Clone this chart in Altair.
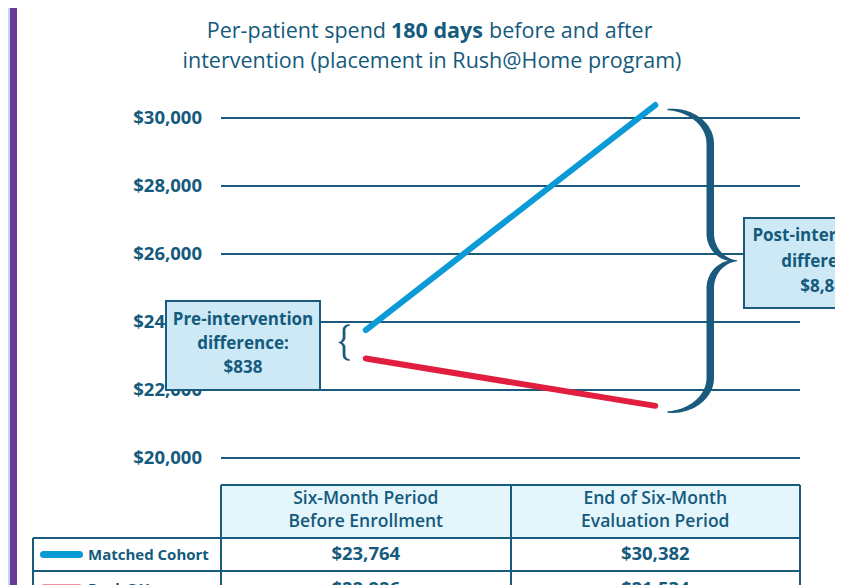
import math
import altair as alt
import pandas as pd

# ---------------- data ----------------
groups = ["Matched Cohort", "Rush@Home"]
period_pos = [0.25, 0.75]
header_line1 = ["Six-Month Period", "End of Six-Month"]
header_line2 = ["Before Enrollment", "Evaluation Period"]
matched = [23764, 30382]
rush_home = [22926, 21534]
y_ticks = [20000, 22000, 24000, 26000, 28000, 30000]

pre_diff = matched[0] - rush_home[0]
post_diff = matched[1] - rush_home[1]

# ---------------- style ----------------
TEXT = "#145a7c"
GRID = "#1a5a7c"
BLUE = "#0a9ad6"
RED = "#e11d40"
BOXFILL = "#cde9f6"
HEADFILL = "#e4f5fc"
PURPLE = "#6a3c98"
LIGHTBLUE = "#b9dbf1"
FONT = "Open Sans"

W, H = 579, 340
PADL, PADT = 213, 110
TOTW, TOTH = 827, 577


def px(x):  # page x -> plot x
    return x - 221


def py(y):  # page y -> plot y
    return y - 118


xs = alt.Scale(domain=[0, 1], nice=False, zero=False)
ys = alt.Scale(domain=[20000, 30000], nice=False, zero=False)
one = pd.DataFrame({"a": [0]})


def text(s, x, y, size=17, weight="bold", align="center", color=TEXT):
    return alt.Chart(one).mark_text(
        text=s, fontSize=size, fontWeight=weight, align=align,
        baseline="middle", font=FONT, color=color
    ).encode(x=alt.value(x), y=alt.value(y))


def rect(x1, x2, y1, y2, fill, stroke=None, sw=0):
    kw = {"fill": fill}
    if stroke:
        kw["stroke"] = stroke
        kw["strokeWidth"] = sw
    return alt.Chart(one).mark_rect(**kw).encode(
        x=alt.value(x1), x2=alt.value(x2), y=alt.value(y1), y2=alt.value(y2))


def hrule(x1, x2, y, color=GRID, w=2, cap="butt"):
    return alt.Chart(one).mark_rule(color=color, strokeWidth=w, strokeCap=cap).encode(
        x=alt.value(x1), x2=alt.value(x2), y=alt.value(y))


def vrule(x, y1, y2, color=GRID, w=2):
    return alt.Chart(one).mark_rule(color=color, strokeWidth=w).encode(
        x=alt.value(x), y=alt.value(y1), y2=alt.value(y2))


def brace(x_end, x_vert, x_tip, y_top, y_bot, r1, r2, w_end, w_mid, n=14):
    y_mid = (y_top + y_bot) / 2
    half = []
    for i in range(n + 1):
        t = i / n * math.pi / 2
        half.append((x_end + (x_vert - x_end) * math.sin(t),
                     y_top - r1 * (1 - math.cos(t)),
                     w_end + (w_mid - w_end) * math.sin(t)))
    for i in range(n + 1):
        t = i / n * math.pi / 2
        half.append((x_vert + (x_tip - x_vert) * (1 - math.cos(t)),
                     y_mid + r2 * (1 - math.sin(t)),
                     w_mid + (w_end * 0.6 - w_mid) * (1 - math.cos(t))))
    other = [(x, 2 * y_mid - y, w) for (x, y, w) in reversed(half[:-1])]
    pts = half + other
    return pd.DataFrame({"x": [p[0] for p in pts], "y": [p[1] for p in pts],
                         "w": [p[2] for p in pts], "i": list(range(len(pts)))})


def trail(df):
    return alt.Chart(df).mark_trail(color=GRID).encode(
        x=alt.X("x:Q", scale=xs, axis=None),
        y=alt.Y("y:Q", scale=ys, axis=None),
        size=alt.Size("w:Q", scale=None, legend=None),
        order="i:Q")


# ---------------- y grid + labels (through the y scale) ----------------
df_ticks = pd.DataFrame({"tick": y_ticks})
grid = alt.Chart(df_ticks).mark_rule(color=GRID, strokeWidth=2).encode(
    y=alt.Y("tick:Q", scale=ys, axis=None), x=alt.value(0), x2=alt.value(W))
tick_labels = alt.Chart(df_ticks).mark_text(
    font=FONT, fontSize=18.5, fontWeight="bold", color=TEXT, align="right", baseline="middle"
).encode(y=alt.Y("tick:Q", scale=ys, axis=None), x=alt.value(-19),
         text=alt.Text("tick:Q", format="$,.0f"))

# ---------------- main lines ----------------
df_lines = pd.DataFrame({
    "pos": period_pos * 2,
    "value": matched + rush_home,
    "group": [groups[0]] * 2 + [groups[1]] * 2,
})

lines = alt.Chart(df_lines).mark_line(strokeWidth=6, strokeCap="round").encode(
    x=alt.X("pos:Q", scale=xs, axis=None),
    y=alt.Y("value:Q", scale=ys, axis=None),
    color=alt.Color("group:N", scale=alt.Scale(domain=groups, range=[BLUE, RED]), legend=None),
    detail="group:N",
)

# ---------------- decorations ----------------
left_bars = [
    rect(-PADL, -PADL + 2, -PADT, TOTH - PADT, LIGHTBLUE),
    rect(-PADL + 2, -PADL + 9, -PADT, TOTH - PADT, PURPLE),
]

title = [
    text("Per-patient spend", px(386), py(32), size=21.5, weight="normal", align="right"),
    text("180 days", px(437), py(32), size=21.5, weight="bold", align="center"),
    text("before and after", px(489), py(32), size=21.5, weight="normal", align="left"),
    text("intervention (placement in Rush@Home program)", px(432), py(62), size=21.5, weight="normal"),
]

big_brace = trail(brace(0.772, 0.845, 0.891, 30250, 21350, 1000, 800, 1.5, 7.5))
small_brace = trail(brace(0.222, 0.2125, 0.203, 23912, 22882, 150, 150, 1.2, 2.8))

pre_box = [
    rect(px(166), px(320), py(301), py(390), BOXFILL, GRID, 2),
    text("Pre-intervention", px(243), py(320)),
    text("difference:", px(243), py(344)),
    text(f"${pre_diff:,}", px(243), py(368)),
]

post_box = [
    rect(px(744), px(910), py(218), py(308), BOXFILL, GRID, 2),
    text("Post-intervention", px(827), py(236)),
    text("difference:", px(827), py(262)),
    text(f"${post_diff:,}", px(827), py(287)),
]

# ---------------- table ----------------
table = [
    rect(px(221), px(800), py(485), py(537), HEADFILL),
    hrule(px(221), px(800), py(485)),
    hrule(px(33), px(800), py(538)),
    hrule(px(33), px(800), py(571)),
    vrule(px(33), py(538), TOTH - PADT),
    vrule(px(221), py(485), TOTH - PADT),
    vrule(px(511), py(485), TOTH - PADT),
    vrule(px(800), py(485), TOTH - PADT),
    hrule(px(43.5), px(79.5), py(554.5), color=BLUE, w=7, cap="round"),
    hrule(px(43.5), px(79.5), py(588), color=RED, w=7, cap="round"),
    text(groups[0], px(88), py(555), size=15, align="left"),
    text(groups[1], px(88), py(589), size=15, align="left"),
]

df_head = pd.DataFrame({"pos": period_pos, "l1": header_line1, "l2": header_line2})
for fld, yy in (("l1", 499), ("l2", 522)):
    table.append(alt.Chart(df_head).mark_text(
        fontSize=17.5, fontWeight=600, font=FONT, color=TEXT, baseline="middle"
    ).encode(x=alt.X("pos:Q", scale=xs, axis=None), y=alt.value(py(yy)), text=f"{fld}:N"))

df_vals = pd.DataFrame({
    "pos": period_pos * 2,
    "value": matched + rush_home,
    "row": [0, 0, 1, 1],
})
df_vals["label"] = df_vals["value"].map(lambda v: f"${v:,}")
for r, yy in ((0, 554), (1, 589)):
    table.append(alt.Chart(df_vals[df_vals["row"] == r]).mark_text(
        fontSize=18.5, fontWeight="bold", font=FONT, color=TEXT, baseline="middle"
    ).encode(x=alt.X("pos:Q", scale=xs, axis=None), y=alt.value(py(yy)), text="label:N"))

chart = alt.layer(
    *left_bars, *title, grid, tick_labels, lines, big_brace, small_brace,
    *pre_box, *post_box, *table
).properties(
    width=W, height=H,
    autosize=alt.AutoSizeParams(type="none"),
    padding={"left": PADL, "top": PADT, "right": TOTW - PADL - W, "bottom": TOTH - PADT - H},
).configure_view(stroke=None)

chart.save("out.html", embed_options={"renderer": "svg", "actions": False})
